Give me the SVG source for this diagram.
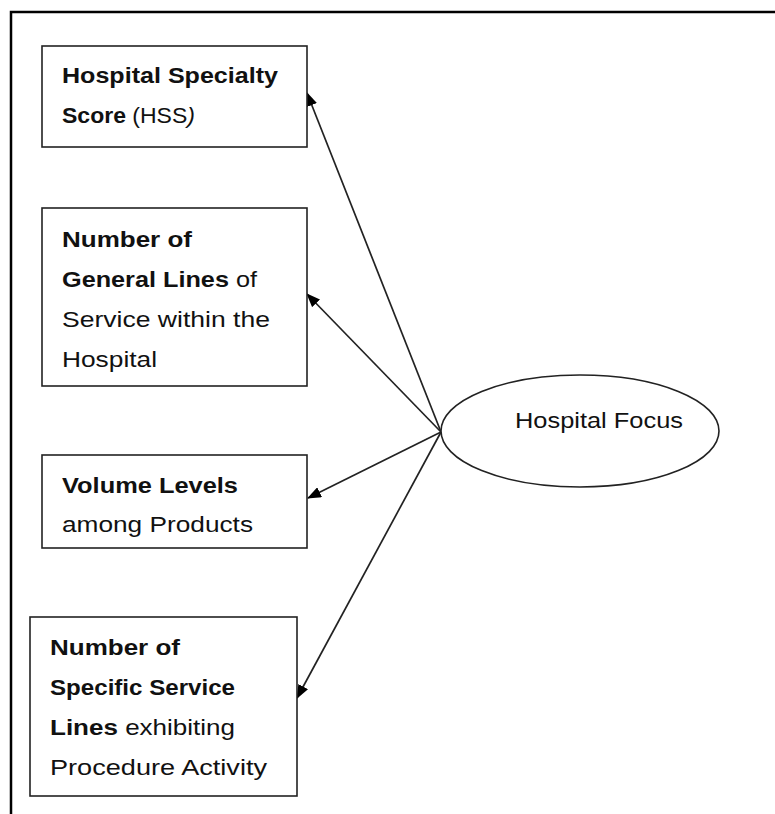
<svg xmlns="http://www.w3.org/2000/svg" width="775" height="814" viewBox="0 0 775 814">
<style>
.frame{fill:none;stroke:#000;stroke-width:2.5}
.box{fill:#fff;stroke:#222;stroke-width:1.6}
.ell{fill:#fff;stroke:#222;stroke-width:1.6}
.conn{stroke:#222;stroke-width:1.7;fill:none;marker-end:url(#ah)}
text{font-family:"Liberation Sans",Arial,sans-serif;font-size:22px;fill:#111}
.b{font-weight:bold}
</style>
<defs>
<marker id="ah" viewBox="0 0 14 11" refX="13" refY="5.5" markerWidth="14" markerHeight="11" markerUnits="userSpaceOnUse" orient="auto">
<path d="M0,0 L14,5.5 L0,11 Z" fill="#000"/>
</marker>
</defs>
<rect width="775" height="814" fill="#fff"/>
<path class="frame" d="M11,814 V12 H775"/>
<g id="connectors">
<line class="conn" x1="441" y1="432" x2="307" y2="93"/>
<line class="conn" x1="441" y1="432" x2="307" y2="294"/>
<line class="conn" x1="441" y1="432" x2="308" y2="498"/>
<line class="conn" x1="441" y1="432" x2="297" y2="698"/>
</g>
<g id="hss">
<rect class="box" x="42" y="46" width="265" height="101"/>
<text x="62" y="83" textLength="216" lengthAdjust="spacingAndGlyphs" class="b">Hospital Specialty</text>
<text x="62" y="123" textLength="133" lengthAdjust="spacingAndGlyphs"><tspan class="b">Score</tspan> (HSS<tspan font-style="italic">)</tspan></text>
</g>
<g id="general-lines">
<rect class="box" x="42" y="208" width="265" height="178"/>
<text x="62" y="247" textLength="130" lengthAdjust="spacingAndGlyphs" class="b">Number of</text>
<text x="62" y="287" textLength="195" lengthAdjust="spacingAndGlyphs"><tspan class="b">General Lines</tspan> of</text>
<text x="62" y="327" textLength="208" lengthAdjust="spacingAndGlyphs">Service within the</text>
<text x="62" y="367" textLength="95" lengthAdjust="spacingAndGlyphs">Hospital</text>
</g>
<g id="volume-levels">
<rect class="box" x="42" y="455" width="265" height="93"/>
<text x="62" y="493" textLength="176" lengthAdjust="spacingAndGlyphs" class="b">Volume Levels</text>
<text x="62" y="532" textLength="191" lengthAdjust="spacingAndGlyphs">among Products</text>
</g>
<g id="specific-lines">
<rect class="box" x="30" y="617" width="267" height="179"/>
<text x="50" y="655" textLength="130" lengthAdjust="spacingAndGlyphs" class="b">Number of</text>
<text x="50" y="695" textLength="185" lengthAdjust="spacingAndGlyphs" class="b">Specific Service</text>
<text x="50" y="735" textLength="185" lengthAdjust="spacingAndGlyphs"><tspan class="b">Lines</tspan> exhibiting</text>
<text x="50" y="775" textLength="217" lengthAdjust="spacingAndGlyphs">Procedure Activity</text>
</g>
<g id="hospital-focus">
<ellipse class="ell" cx="580" cy="431" rx="139" ry="56"/>
<text x="515" y="428" textLength="168" lengthAdjust="spacingAndGlyphs">Hospital Focus</text>
</g>
</svg>
